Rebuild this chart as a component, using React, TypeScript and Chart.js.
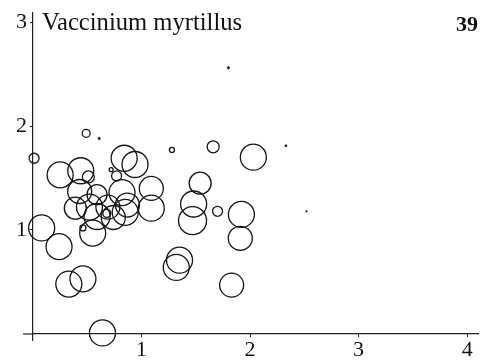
import React, { useEffect, useRef } from "react";
import { Chart, registerables } from "chart.js";

Chart.register(...registerables);

// Open circles: x, y, radius
const circleX = [0.01, 0.08, 0.24, 0.33, 0.46, 0.64, 0.25, 0.44, 0.51, 0.49, 1.28, 1.66, 2.03, 0.84, 0.94, 0.72, 0.77, 1.09, 1.09, 1.54, 1.48, 1.47, 1.70, 1.92, 1.91, 1.35, 1.32, 1.83, 0.43, 0.59, 0.82, 0.87, 0.39, 0.52, 0.69, 0.59, 0.85, 0.55, 0.68, 0.46, 0.74];
const circleY = [1.69, 1.02, 0.84, 0.48, 0.53, 0.01, 1.53, 1.57, 1.51, 1.93, 1.77, 1.80, 1.70, 1.69, 1.63, 1.58, 1.52, 1.40, 1.21, 1.45, 1.25, 1.09, 1.18, 1.15, 0.92, 0.71, 0.64, 0.47, 1.37, 1.34, 1.36, 1.24, 1.21, 1.22, 1.22, 1.13, 1.17, 0.97, 1.16, 1.02, 1.12];
const circleR = [5, 13, 13, 13, 13, 13, 13, 13, 6, 4, 2.5, 6, 13, 13, 13, 2, 5, 12, 13, 11, 13, 14, 5, 13, 12, 13, 13, 12, 12, 10, 13, 12, 11, 13, 12, 13, 13, 13, 4, 3, 12];

// Tiny filled dots
const dotX = [0.61, 1.80, 2.33, 2.52];
const dotY = [1.88, 2.56, 1.81, 1.18];
const dotR = [1.2, 1.2, 1.1, 0.8];

const xTicks = [1, 2, 3, 4];
const yTicks = [1, 2, 3];
const titleText = "Vaccinium myrtillus";
const panelNumber = "39";

const SERIF = '"Liberation Serif", "Times New Roman", serif';

export default function App() {
  const ref = useRef<HTMLCanvasElement | null>(null);

  useEffect(() => {
    const canvas = ref.current;
    if (!canvas) return;

    const extrasPlugin = {
      id: "panelExtras",
      afterDraw(chart: any) {
        const ctx = chart.ctx;
        const xs = chart.scales.x;
        const ys = chart.scales.y;
        ctx.save();
        // short stub of the x axis line reaching left of the y axis
        const y0 = Math.round(ys.getPixelForValue(0));
        const x0 = xs.getPixelForValue(0);
        ctx.strokeStyle = "#222";
        ctx.lineWidth = 1.2;
        ctx.beginPath();
        ctx.moveTo(x0 - 10, y0);
        ctx.lineTo(x0, y0);
        ctx.stroke();
        // texts
        ctx.fillStyle = "#111";
        ctx.textBaseline = "alphabetic";
        ctx.textAlign = "left";
        ctx.font = `24.6px ${SERIF}`;
        ctx.fillText(titleText, 42, 30);
        ctx.textAlign = "right";
        ctx.font = `bold 22px ${SERIF}`;
        ctx.fillText(panelNumber, 478, 31);
        ctx.restore();
      },
    };

    const chart = new Chart(canvas, {
      type: "bubble",
      data: {
        datasets: [
          {
            data: circleX.map((x, i) => ({ x, y: circleY[i], r: circleR[i] })),
            borderColor: "#151515",
            backgroundColor: "rgba(0,0,0,0)",
            borderWidth: 1.3,
            clip: false as any,
          },
          {
            data: dotX.map((x, i) => ({ x, y: dotY[i], r: dotR[i] })),
            borderColor: "#111",
            backgroundColor: "#111",
            borderWidth: 0.5,
            clip: false as any,
          },
        ],
      },
      options: {
        responsive: false,
        animation: false,
        devicePixelRatio: 1,
        layout: { autoPadding: false, padding: { left: 0, right: 8, top: 13, bottom: 23 } },
        plugins: {
          legend: { display: false },
          tooltip: { enabled: false },
          title: { display: false },
        },
        scales: {
          x: {
            type: "linear",
            min: 0,
            max: 4.1,
            position: { y: 0 } as any,
            afterBuildTicks: (scale: any) => {
              scale.ticks = xTicks.map((v) => ({ value: v }));
            },
            afterFit: (scale: any) => {
              scale.paddingLeft = 0;
              scale.paddingRight = 0;
              scale.paddingTop = 0;
              scale.paddingBottom = 0;
            },
            ticks: {
              color: "#111",
              font: { family: SERIF, size: 22 },
              padding: 0,
              maxRotation: 0,
            },
            grid: { drawOnChartArea: false, drawTicks: true, tickLength: 3, color: "#222" },
            border: { display: true, color: "#222", width: 1.2 },
          },
          y: {
            type: "linear",
            min: -0.058,
            max: 3.087,
            position: "left",
            afterBuildTicks: (scale: any) => {
              scale.ticks = yTicks.map((v) => ({ value: v }));
            },
            afterFit: (scale: any) => {
              scale.width = 33;
              scale.paddingLeft = 0;
              scale.paddingRight = 0;
              scale.paddingTop = 0;
              scale.paddingBottom = 0;
            },
            ticks: {
              color: "#111",
              font: { family: SERIF, size: 22 },
              padding: 3,
            },
            grid: { drawOnChartArea: false, drawTicks: true, tickLength: 3, color: "#222" },
            border: { display: true, color: "#222", width: 1.2 },
          },
        },
      },
      plugins: [extrasPlugin],
    });

    return () => chart.destroy();
  }, []);

  return (
    <div style={{ position: "absolute", left: 0, top: 0, width: 486, height: 363, background: "#fff" }}>
      <canvas ref={ref} width={486} height={363} />
    </div>
  );
}
